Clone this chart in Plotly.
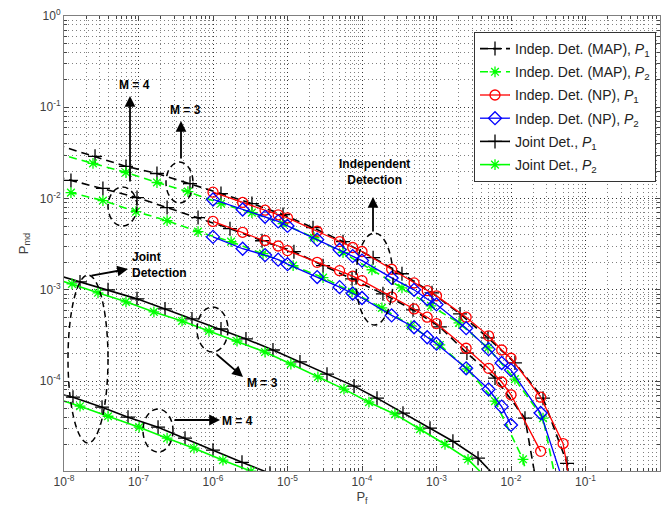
import plotly.graph_objects as go

# ---------------- data ----------------
# Independent detection, MAP, P1 (two M values: upper curve, lower curve)
map_p1_a_pf = [7.94e-9, 2.61e-8, 6.79e-8, 1.77e-7, 4.91e-7, 1.28e-6, 3.33e-6, 8.71e-6, 2.20e-5, 5.56e-5,
               1.41e-4, 3.44e-4, 8.71e-4, 2.07e-3, 4.91e-3, 1.13e-2, 2.69e-2, 5.65e-2, 6.19e-2]
map_p1_a_pmd = [3.89e-2, 2.90e-2, 2.25e-2, 1.88e-2, 1.46e-2, 1.135e-2, 8.81e-3, 6.67e-3, 4.80e-3, 3.37e-3,
                2.25e-3, 1.50e-3, 9.27e-4, 5.45e-4, 2.97e-4, 1.58e-4, 6.50e-5, 1.256e-5, 6.17e-6]
map_p1_b_pf = [7.94e-9, 1.24e-8, 3.33e-8, 9.55e-8, 2.42e-7, 6.30e-7, 1.69e-6, 4.55e-6, 1.22e-5, 3.00e-5,
               7.35e-5, 1.91e-4, 4.84e-4, 1.11e-3, 2.56e-3, 6.10e-3, 1.54e-2, 2.17e-2]
map_p1_b_pmd = [1.74e-2, 1.58e-2, 1.29e-2, 1.026e-2, 7.96e-3, 6.18e-3, 4.68e-3, 3.45e-3, 2.62e-3, 1.84e-3,
                1.32e-3, 9.04e-4, 6.03e-4, 3.92e-4, 2.03e-4, 1.08e-4, 3.92e-5, 7.94e-6]

# Independent detection, MAP, P2
map_p2_a_pf = [7.94e-9, 2.45e-8, 6.79e-8, 1.77e-7, 4.61e-7, 1.28e-6, 3.33e-6, 8.71e-6, 2.27e-5, 5.56e-5,
               1.36e-4, 3.44e-4, 8.43e-4, 2.00e-3, 4.91e-3, 1.13e-2, 2.69e-2, 4.02e-2]
map_p2_a_pmd = [3.13e-2, 2.43e-2, 1.93e-2, 1.50e-2, 1.19e-2, 8.81e-3, 7.01e-3, 5.31e-3, 3.72e-3, 2.55e-3,
                1.66e-3, 1.05e-3, 6.67e-4, 4.34e-4, 2.31e-4, 1.05e-4, 3.92e-5, 7.94e-6]
map_p2_b_pf = [7.94e-9, 1.24e-8, 3.33e-8, 9.25e-8, 2.42e-7, 6.30e-7, 1.75e-6, 4.69e-6, 1.19e-5, 3.00e-5,
               7.35e-5, 1.85e-4, 4.55e-4, 1.11e-3, 2.56e-3, 6.10e-3, 1.45e-2, 1.80e-2]
map_p2_b_pmd = [1.30e-2, 1.16e-2, 9.51e-3, 7.19e-3, 5.73e-3, 4.34e-3, 3.37e-3, 2.49e-3, 1.84e-3, 1.36e-3,
                9.51e-4, 6.34e-4, 4.02e-4, 2.49e-4, 1.36e-4, 6.03e-5, 1.39e-5, 6.17e-6]

# Independent detection, NP (Neyman-Pearson) - Pf grid
np_pf = [1e-6, 2.5e-6, 5e-6, 7.5e-6, 1e-5, 2.5e-5, 5e-5, 7.5e-5, 1e-4, 2.5e-4, 5e-4, 7.5e-4,
         1e-3, 2.5e-3, 5e-3, 7.5e-3, 1e-2, 2.5e-2, 5e-2, 7.5e-2]
np_p1_a_pmd = [1.175e-2, 9.06e-3, 7.45e-3, 6.64e-3, 6.14e-3, 4.38e-3, 3.38e-3, 2.91e-3, 2.63e-3, 1.68e-3,
               1.19e-3, 9.79e-4, 8.59e-4, 5.01e-4, 3.13e-4, 2.19e-4, 1.78e-4, 6.67e-5, 2.07e-5, 3.16e-6]
np_p1_b_pmd = [5.62e-3, 4.27e-3, 3.47e-3, 3.02e-3, 2.69e-3, 2.00e-3, 1.62e-3, 1.41e-3, 1.26e-3, 8.32e-4,
               6.17e-4, 5.01e-4, 4.27e-4, 2.29e-4, 1.38e-4, 9.77e-5, 7.08e-5, 1.70e-5]
np_p2_a_pmd = [9.77e-3, 7.59e-3, 6.31e-3, 5.62e-3, 5.01e-3, 3.55e-3, 2.75e-3, 2.34e-3, 2.09e-3, 1.35e-3,
               1.00e-3, 7.94e-4, 6.92e-4, 3.80e-4, 2.24e-4, 1.58e-4, 1.32e-4, 4.47e-5, 7.94e-6]
np_p2_b_pmd = [3.80e-3, 2.82e-3, 2.40e-3, 2.14e-3, 1.91e-3, 1.38e-3, 1.07e-3, 9.12e-4, 8.13e-4, 5.25e-4,
               3.89e-4, 3.02e-4, 2.57e-4, 1.38e-4, 8.13e-5, 5.25e-5, 3.31e-5]

# Joint detection, P1
joint_p1_a_pf = [7.94e-9, 1.64e-8, 3.90e-8, 9.55e-8, 2.27e-7, 5.22e-7, 1.28e-6, 2.77e-6, 6.38e-6, 1.47e-5,
                 3.39e-5, 7.82e-5, 1.59e-4, 3.55e-4, 8.18e-4, 1.66e-3, 3.61e-3, 8.30e-3]
joint_p1_a_pmd = [1.46e-3, 1.22e-3, 1.0e-3, 7.96e-4, 6.18e-4, 4.80e-4, 3.72e-4, 2.90e-4, 2.19e-4, 1.62e-4,
                  1.19e-4, 8.81e-5, 6.50e-5, 4.45e-5, 3.05e-5, 2.19e-5, 1.43e-5, 7.01e-6]
joint_p1_b_pf = [7.94e-9, 1.32e-8, 3.24e-8, 7.23e-8, 1.83e-7, 4.21e-7, 1.0e-6, 2.45e-6, 5.82e-6, 1.47e-5]
joint_p1_b_pmd = [7.35e-5, 6.67e-5, 5.18e-5, 4.02e-5, 3.13e-5, 2.37e-5, 1.75e-5, 1.29e-5, 9.75e-6, 7.01e-6]

# Joint detection, P2
joint_p2_a_pf = [7.94e-9, 1.28e-8, 2.86e-8, 6.79e-8, 1.61e-7, 3.84e-7, 8.83e-7, 2.10e-6, 4.99e-6, 1.11e-5,
                 2.56e-5, 5.73e-5, 1.24e-4, 2.77e-4, 6.01e-4, 1.30e-3, 2.65e-3, 6.10e-3]
joint_p2_a_pmd = [1.31e-3, 1.16e-3, 9.27e-4, 7.38e-4, 5.73e-4, 4.56e-4, 3.54e-4, 2.75e-4, 2.08e-4, 1.54e-4,
                  1.11e-4, 8.17e-5, 5.87e-5, 4.34e-5, 2.97e-5, 2.03e-5, 1.39e-5, 7.01e-6]
joint_p2_b_pf = [7.94e-9, 1.64e-8, 3.90e-8, 1.02e-7, 2.42e-7, 5.56e-7, 1.36e-6, 3.24e-6, 7.69e-6]
joint_p2_b_pmd = [6.40e-5, 5.31e-5, 4.12e-5, 3.13e-5, 2.37e-5, 1.84e-5, 1.36e-5, 1.03e-5, 7.57e-6]

legend_names = [
    "Indep. Det. (MAP), <i>P</i><sub>1</sub>",
    "Indep. Det. (MAP), <i>P</i><sub>2</sub>",
    "Indep. Det. (NP), <i>P</i><sub>1</sub>",
    "Indep. Det. (NP), <i>P</i><sub>2</sub>",
    "Joint Det., <i>P</i><sub>1</sub>",
    "Joint Det., <i>P</i><sub>2</sub>",
]
x_tick_vals = [1e-8, 1e-7, 1e-6, 1e-5, 1e-4, 1e-3, 1e-2, 1e-1, 1e0]
x_tick_text = ["10<sup>-8</sup>", "10<sup>-7</sup>", "10<sup>-6</sup>", "10<sup>-5</sup>", "10<sup>-4</sup>",
               "10<sup>-3</sup>", "10<sup>-2</sup>", "10<sup>-1</sup>", "10<sup>0</sup>"]
y_tick_vals = [1e-4, 1e-3, 1e-2, 1e-1, 1e0]
y_tick_text = ["10<sup>-4</sup>", "10<sup>-3</sup>", "10<sup>-2</sup>", "10<sup>-1</sup>", "10<sup>0</sup>"]
x_decades = [1e-8, 1e-7, 1e-6, 1e-5, 1e-4, 1e-3, 1e-2, 1e-1]
y_decades = [1e-5, 1e-4, 1e-3, 1e-2, 1e-1]
minor_mult = [2, 3, 4, 5, 6, 7, 8, 9]

# ---------------- styling ----------------
BLACK, GREEN, RED, BLUE = "#000000", "#00ff00", "#ff0000", "#0000ff"
FONT = "Arial, Liberation Sans, sans-serif"
DASH = "8px,5px"
GRID_DOT = "1px,3px"

W, H = 666, 518
L, R, T, B = 64, 6, 16, 47
PW, PH = W - L - R, H - T - B


def px(xp):
    return (xp - L) / PW


def py(yp):
    return (H - B - yp) / PH


series = [
    (0, map_p1_a_pf, map_p1_a_pmd, BLACK, DASH, "cross-thin-open", 10, 1.6),
    (0, map_p1_b_pf, map_p1_b_pmd, BLACK, DASH, "cross-thin-open", 10, 1.6),
    (1, map_p2_a_pf, map_p2_a_pmd, GREEN, DASH, "asterisk-open", 9, 1.6),
    (1, map_p2_b_pf, map_p2_b_pmd, GREEN, DASH, "asterisk-open", 9, 1.6),
    (2, np_pf, np_p1_a_pmd, RED, "solid", "circle-open", 10, 1.3),
    (2, np_pf[:len(np_p1_b_pmd)], np_p1_b_pmd, RED, "solid", "circle-open", 10, 1.3),
    (3, np_pf[:len(np_p2_a_pmd)], np_p2_a_pmd, BLUE, "solid", "diamond-open", 10, 1.3),
    (3, np_pf[:len(np_p2_b_pmd)], np_p2_b_pmd, BLUE, "solid", "diamond-open", 10, 1.3),
    (4, joint_p1_a_pf, joint_p1_a_pmd, BLACK, "solid", "cross-thin-open", 10, 1.6),
    (4, joint_p1_b_pf, joint_p1_b_pmd, BLACK, "solid", "cross-thin-open", 10, 1.6),
    (5, joint_p2_a_pf, joint_p2_a_pmd, GREEN, "solid", "asterisk-open", 9, 1.6),
    (5, joint_p2_b_pf, joint_p2_b_pmd, GREEN, "solid", "asterisk-open", 9, 1.6),
]

fig = go.Figure()
shown = set()
for grp, xs, ys, col, dash, sym, ms, lw in series:
    fig.add_trace(go.Scatter(
        x=xs, y=ys, mode="lines+markers",
        name=legend_names[grp], legendgroup=f"g{grp}",
        showlegend=grp not in shown,
        line=dict(color=col, width=lw, dash=dash),
        marker=dict(symbol=sym, size=ms, color=col, line=dict(color=col, width=1.3)),
    ))
    shown.add(grp)


def axis_style(decades):
    return dict(
        type="log", showline=True, linecolor="#7f7f7f", linewidth=1, mirror="allticks",
        ticks="inside", ticklen=5, tickcolor="#444", tickwidth=1,
        showgrid=True, gridcolor="#333333", gridwidth=1, griddash=GRID_DOT,
        zeroline=False,
        tickfont=dict(family=FONT, size=12, color="#404040"),
        minor=dict(tickmode="array", tickvals=[d * m for d in decades for m in minor_mult],
                   ticks="inside", ticklen=3, tickcolor="#444", showgrid=True,
                   gridcolor="#808080", griddash=GRID_DOT, gridwidth=1),
    )


fig.update_layout(
    width=W, height=H,
    margin=dict(l=L, r=R, t=T, b=B, pad=0),
    paper_bgcolor="white", plot_bgcolor="white",
    font=dict(family=FONT, size=12, color="#222"),
    xaxis=dict(axis_style(x_decades), range=[-8, 0], tickvals=x_tick_vals, ticktext=x_tick_text,
               title=dict(text="P<sub>f</sub>", font=dict(family=FONT, size=13, color="#404040"), standoff=0)),
    yaxis=dict(axis_style(y_decades), range=[-4.985, 0], tickvals=y_tick_vals, ticktext=y_tick_text,
               title=dict(text="P<sub>md</sub>", font=dict(family=FONT, size=13, color="#404040"), standoff=8)),
    legend=dict(x=px(474), y=py(32), xanchor="left", yanchor="top",
                bgcolor="white", bordercolor="#333", borderwidth=1,
                font=dict(family=FONT, size=14, color="#222"),
                tracegroupgap=2, traceorder="grouped"),
)

# dashed ellipses (pixel boxes converted to paper coordinates)
ellipses = [
    (108, 137, 187, 226),
    (166, 193, 162, 203),
    (356, 393, 233, 325),
    (68, 108, 275, 443),
    (197, 228, 307, 352),
    (143, 173, 409, 452),
]
for x0, x1, y0, y1 in ellipses:
    fig.add_shape(type="circle", xref="paper", yref="paper",
                  x0=px(x0), x1=px(x1), y0=py(y1), y1=py(y0),
                  line=dict(color="black", width=1.5, dash="6px,4px"))

# arrows: (head_x, head_y, tail_x, tail_y)
arrows = [
    (130, 96, 130, 183),
    (181, 121, 181, 160),
    (373, 197, 373, 233),
    (128, 269, 90, 276),
    (243, 377, 215, 353),
    (220, 420, 173, 420),
]
for hx, hy, tx, ty in arrows:
    fig.add_annotation(x=px(hx), y=py(hy), xref="paper", yref="paper", text="",
                       showarrow=True, ax=tx - hx, ay=ty - hy, axref="pixel", ayref="pixel",
                       arrowhead=2, arrowsize=1.2, arrowwidth=1.8, arrowcolor="black", standoff=0)

labels = [
    ("<b>M = 4</b>", 134, 85, "center"),
    ("<b>M = 3</b>", 185, 110, "center"),
    ("<b>Independent<br>Detection</b>", 374, 172, "center"),
    ("<b>Joint<br>Detection</b>", 130, 265, "left"),
    ("<b>M = 3</b>", 262, 383, "center"),
    ("<b>M = 4</b>", 237, 421, "center"),
]
for txt, x, y, anc in labels:
    fig.add_annotation(x=px(x), y=py(y), xref="paper", yref="paper", text=txt,
                       showarrow=False, xanchor=anc, yanchor="middle", align=anc,
                       font=dict(family=FONT, size=12, color="black"))

fig.write_html("out.html", config={"displayModeBar": False},
               post_script="document.body.style.margin='0';")
